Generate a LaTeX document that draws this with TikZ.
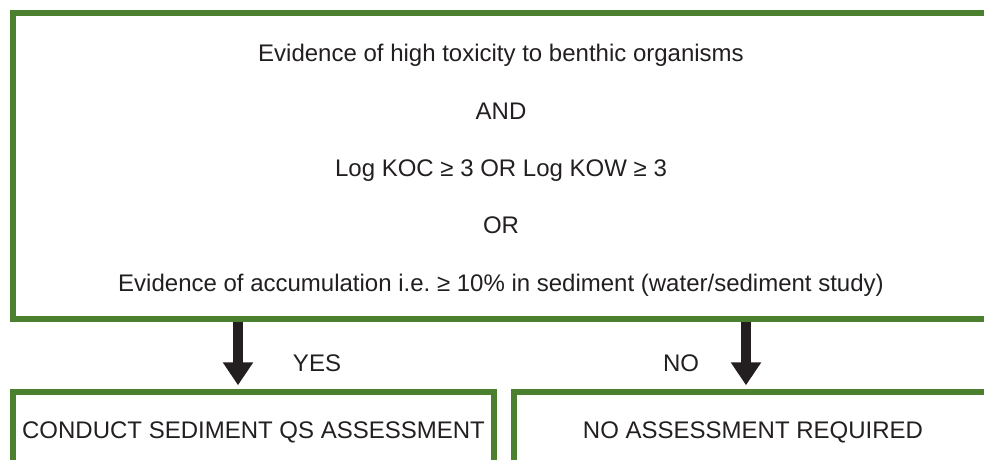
\documentclass[tikz,border=0pt]{standalone}
\usepackage{fontspec}
\setmainfont{Liberation Sans}
\usepackage{tikz}
\usetikzlibrary{positioning, arrows.meta}
\definecolor{qsgreen}{RGB}{74,128,46}
\definecolor{ink}{RGB}{35,31,32}
\frenchspacing

\begin{document}
\begin{tikzpicture}[
    x=1pt, y=-1pt,
    box/.style={draw=qsgreen, line width=5.5pt, inner sep=0pt, align=center, text=ink, font=\fontsize{24}{57.4}\selectfont},
    critbox/.style={box, minimum width=976pt, minimum height=306pt},
    resbox/.style={box, minimum height=80pt},
    flow/.style={draw=ink, line width=10pt, -{Triangle[length=23pt, width=29pt]}, shorten >=4pt},
    answer/.style={font=\fontsize{24}{29}\selectfont, text=ink}
]
\useasboundingbox (0,0) rectangle (984,459);
\clip (0,0) rectangle (984,459);
% criteria
\node[critbox] (crit) at (501,166) {\rule{0pt}{26pt}Evidence of high toxicity to benthic organisms\\
    AND\\
    Log KOC ≥ 3 OR Log KOW ≥ 3\\
    OR\\
    Evidence of accumulation i.e. ≥ 10\% in sediment (water/sediment study)};
% outcomes
\node[resbox, minimum width=481pt] (yes) at (253.5,432) {CONDUCT SEDIMENT QS ASSESSMENT};
\node[resbox, minimum width=478pt] (no) at (753,432) {NO ASSESSMENT REQUIRED};
\coordinate (yesdrop) at (238,0);
\coordinate (nodrop) at (746,0);
\draw[flow] (yesdrop |- crit.south) -- (yesdrop |- yes.north);
\draw[flow] (nodrop |- crit.south) -- (nodrop |- no.north);
\node[answer] (yeslbl) at (317,363) {YES};
\node[answer] (nolbl) at (681,363) {NO};
\end{tikzpicture}
\end{document}
